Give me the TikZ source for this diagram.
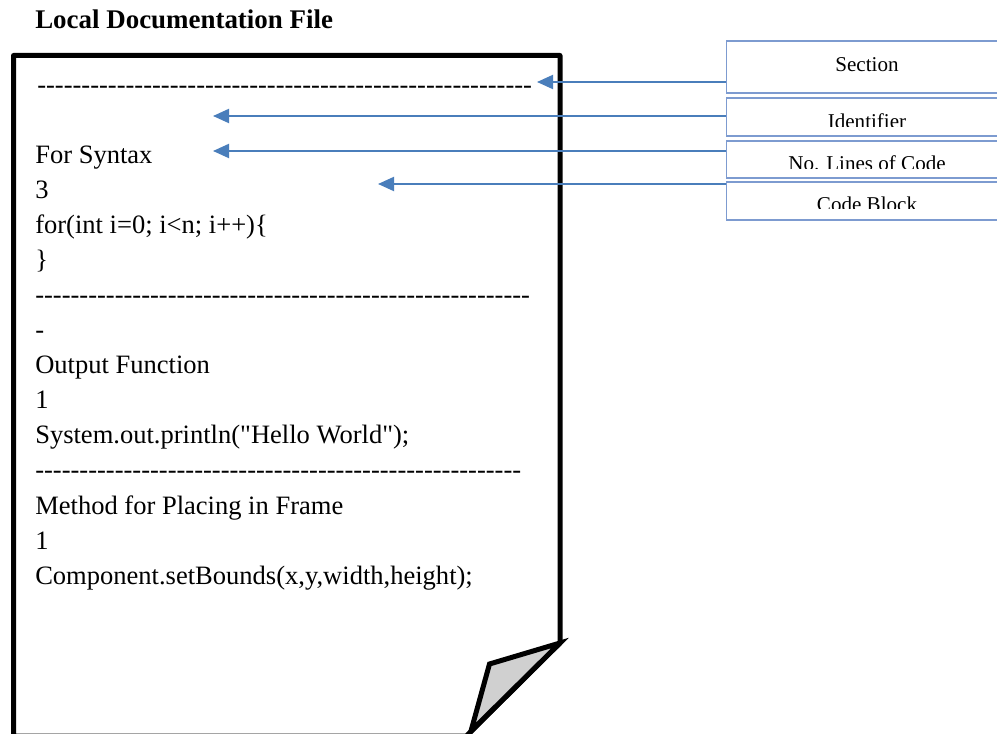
\documentclass[tikz,border=0pt]{standalone}
\usepackage{fontspec}
\setmainfont{Liberation Serif}
% plain family: keeps straight quotation marks
\newfontfamily\docfont{Liberation Serif}
\usetikzlibrary{arrows.meta,fit}

% a row of separate hyphens (no dash ligatures)
\ExplSyntaxOn
\NewDocumentCommand\dashrow{m}{\prg_replicate:nn{#1}{-{}}}
\ExplSyntaxOff

\definecolor{arrowblue}{RGB}{74,126,187}
\definecolor{boxblue}{RGB}{125,155,208}
\definecolor{foldgray}{RGB}{208,208,208}

\begin{document}
\begin{tikzpicture}[x=0.75pt,y=-0.75pt,
  doc/.style={anchor=base west, inner sep=0pt, font=\docfont\fontsize{19.9}{19.9}\selectfont},
  heading/.style={anchor=base west, inner sep=0pt, font=\docfont\bfseries\fontsize{20.2}{20.2}\selectfont},
  tag/.style={anchor=base, inner sep=0pt, font=\docfont\fontsize{15.8}{15.8}\selectfont},
  tagbox/.style={draw=boxblue, line width=1.1pt, fill=white, inner sep=0pt},
  page/.style={draw=black, line width=3.75pt, line join=round, fill=white},
  fold/.style={draw=black, line width=3.75pt, line join=miter, fill=foldgray},
  pointer/.style={draw=arrowblue, line width=1.5pt, -{Triangle[length=12pt, width=10.5pt]}}
]
\path[use as bounding box, clip] (0,0) rectangle (997,734);

% title
\node[heading] (title) at (35,29) {Local Documentation File};

% the sheet with its turned-up corner
\draw[page] (13.5,736) -- (13.5,55.5) -- (560,55.5) -- (560,643) -- (466.5,736) -- cycle;
\draw[fold] (560,643) -- (489.5,664) -- (471,731) -- cycle;

% file contents
\node[doc] (d0) at (37,94)  {\dashrow{56}};
\node[doc] (l1) at (35,164) {For Syntax};
\node[doc] (l2) at (35,199) {3};
\node[doc] (l3) at (35,234) {for(int i=0; i<n; i++)\{};
\node[doc] (l4) at (35,269) {\}};
\node[doc] (d1) at (35,304) {\dashrow{56}};
\node[doc] (d1b) at (35,339) {-};
\node[doc] (l5) at (35,374) {Output Function};
\node[doc] (l6) at (35,409) {1};
\node[doc] (l7) at (35,444) {System.out.println("Hello World");};
\node[doc] (d2) at (35,479) {\dashrow{55}};
\node[doc] (l8) at (35,514) {Method for Placing in Frame};
\node[doc] (l9) at (35,549) {1};
\node[doc] (l10) at (35,584) {Component.setBounds(x,y,width,height);};

% legend boxes
\node[tagbox, fit={(726.5,41)(1010,93)}] (sect) {};
\node[tagbox, fit={(726.5,98)(1010,136)}] (ident) {};
\node[tagbox, fit={(726.5,141)(1010,178)}] (lines) {};
\node[tagbox, fit={(726.5,182)(1010,220)}] (code) {};

\node[tag] (sectlbl) at (867,71.7) {Section};
\begin{scope}
  \clip (727,99) rectangle (1000,126.7);
  \node[tag] (identlbl) at (867,129) {Identifier};
\end{scope}
\begin{scope}
  \clip (727,142) rectangle (1000,169);
  \node[tag] (lineslbl) at (867,170.6) {No. Lines of Code};
\end{scope}
\begin{scope}
  \clip (727,183) rectangle (1000,209);
  \node[tag] (codelbl) at (867,212) {Code Block};
\end{scope}

% pointers into the file
\coordinate (pS) at (537,82);
\coordinate (pI) at (213,116);
\coordinate (pN) at (213,151);
\coordinate (pC) at (378,184);
\draw[pointer] (sect.west |- pS) -- (pS);
\draw[pointer] (ident.west |- pI) -- (pI);
\draw[pointer] (lines.west |- pN) -- (pN);
\draw[pointer] (code.west |- pC) -- (pC);
\end{tikzpicture}
\end{document}
